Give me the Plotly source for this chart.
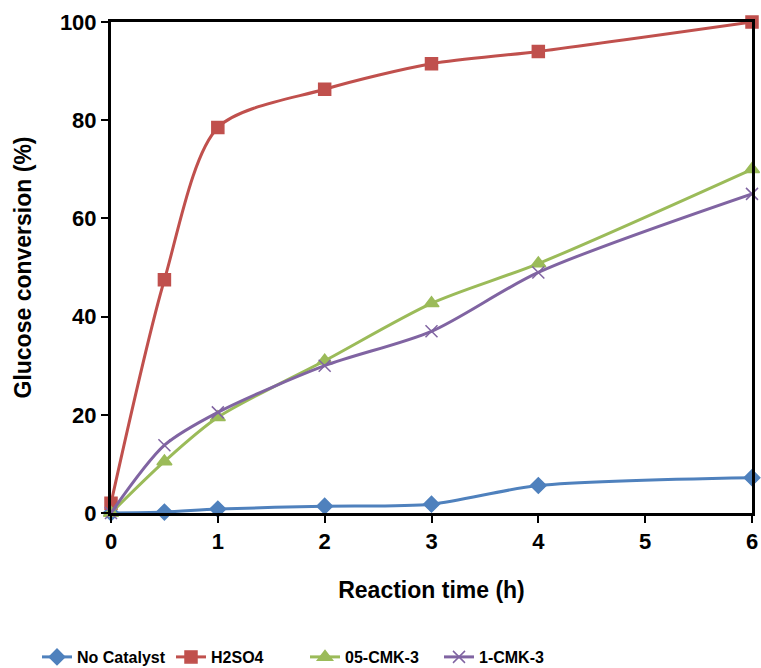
import plotly.graph_objects as go

# Reaction times (h)
time_h = [0, 0.5, 1, 2, 3, 4, 6]

# Glucose conversion (%) for each catalyst
no_catalyst = [0, 0.2, 0.8, 1.4, 1.8, 5.6, 7.2]
h2so4 = [2, 47.5, 78.5, 86.3, 91.5, 94, 100]
cmk3_05 = [0, 10.5, 19.5, 31, 42.7, 50.8, 70]
cmk3_1 = [0, 13.8, 20.5, 30, 37, 49, 65]

series = [
    ("No Catalyst", no_catalyst, "#4F81BD", "diamond", 12),
    ("H2SO4", h2so4, "#C0504D", "square", 12),
    ("05-CMK-3", cmk3_05, "#9BBB59", "triangle-up", 13),
    ("1-CMK-3", cmk3_1, "#8064A2", "x-thin", 12),
]

FONT = "Liberation Sans, Arial, sans-serif"

fig = go.Figure()
for name, vals, color, symbol, size in series:
    fig.add_trace(go.Scatter(
        x=time_h, y=vals, name=name,
        mode="lines+markers",
        line=dict(color=color, width=3, shape="spline", smoothing=0.8),
        marker=dict(symbol=symbol, size=size, color=color,
                    line=dict(color=color, width=1.5)),
        cliponaxis=False,
    ))

axis_common = dict(
    showline=True, linecolor="black", linewidth=3, mirror=True,
    ticks="outside", ticklen=7, tickwidth=1.5, tickcolor="black",
    showgrid=False, zeroline=False, automargin=False,
    tickfont=dict(family=FONT, size=22, color="black", weight="bold"),
)

fig.update_layout(
    width=761, height=668,
    paper_bgcolor="white", plot_bgcolor="white",
    margin=dict(l=111, r=9, t=22, b=155, autoexpand=False),
    xaxis=dict(range=[0, 6], tickvals=[0, 1, 2, 3, 4, 5, 6],
               title=dict(text="Reaction time (h)", standoff=29,
                          font=dict(family=FONT, size=23, color="black", weight="bold")),
               **axis_common),
    yaxis=dict(range=[0, 100], tickvals=[0, 20, 40, 60, 80, 100],
               title=dict(text="Glucose conversion (%)", standoff=22,
                          font=dict(family=FONT, size=23, color="black", weight="bold")),
               **axis_common),
    legend=dict(orientation="h", x=(37 - 111) / 641, xanchor="left",
                y=-(657 - 513) / 491, yanchor="middle",
                font=dict(family=FONT, size=16, color="black", weight="bold"),
                entrywidth=89, entrywidthmode="pixels",
                itemwidth=30, tracegroupgap=0),
)

fig.write_html("out.html")
